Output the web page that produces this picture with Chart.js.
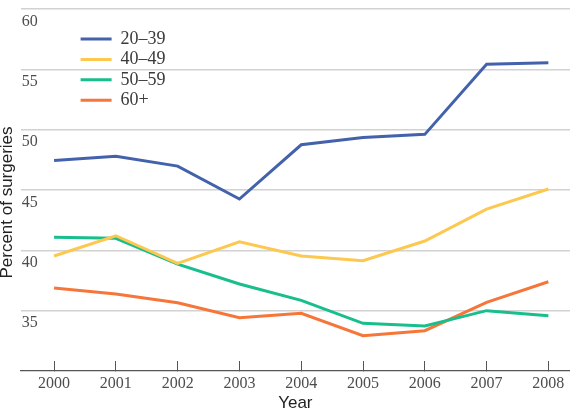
<!DOCTYPE html>
<html>
<head>
<meta charset="utf-8">
<script src="https://cdn.jsdelivr.net/npm/chart.js@4/dist/chart.umd.min.js"></script>
<style>
html,body{margin:0;padding:0;background:#fff;}
canvas{display:block;}
</style>
</head>
<body>
<canvas id="c" width="570" height="415"></canvas>
<script>
// ---- data ----
const years = [2000, 2001, 2002, 2003, 2004, 2005, 2006, 2007, 2008];
const seriesLabels = ['20\u201339', '40\u201349', '50\u201359', '60+'];
const age20to39 = [47.45, 47.80, 46.98, 44.25, 48.75, 49.36, 49.61, 55.43, 55.55];
const age40to49 = [39.53, 41.21, 38.92, 40.71, 39.53, 39.14, 40.77, 43.42, 45.08];
const age50to59 = [41.08, 41.00, 38.86, 37.21, 35.85, 33.95, 33.73, 35.00, 34.58];
const age60plus = [36.88, 36.38, 35.66, 34.42, 34.78, 32.93, 33.34, 35.69, 37.40];
const yTickLabels = [35, 40, 45, 50, 55, 60];
const xTitle = 'Year';
const yTitle = 'Percent of surgeries';

// ---- styling ----
const colors = ['#4462AB', '#FCC850', '#18BE8C', '#F6763A'];
const serif = '"Liberation Serif", "Times New Roman", serif';
const sans = '"Liberation Sans", Arial, sans-serif';

const seriesValues = [age20to39, age40to49, age50to59, age60plus];
const datasets = seriesValues.map((vals, i) => ({
  label: seriesLabels[i],
  data: years.map((yr, j) => ({x: yr, y: vals[j]})),
  borderColor: colors[i],
  backgroundColor: colors[i],
  borderWidth: 3,
  pointRadius: 0,
  tension: 0,
  fill: false
}));

const customPlugin = {
  id: 'customPlugin',
  afterLayout(chart) {
    const lg = chart.legend;
    if (!lg) return;
    const w = lg.width, h = lg.height;
    lg.left = 78.2; lg.right = lg.left + w;
    lg.top = 27.6; lg.bottom = lg.top + h;
  },
  afterDraw(chart) {
    const ctx = chart.ctx;
    ctx.save();
    ctx.translate(12.3, 202.5);
    ctx.rotate(-Math.PI / 2);
    ctx.font = '17px ' + sans;
    ctx.fillStyle = '#222';
    ctx.textAlign = 'center';
    ctx.textBaseline = 'alphabetic';
    ctx.fillText(yTitle, 0, 0);
    ctx.restore();
  }
};

new Chart(document.getElementById('c'), {
  type: 'line',
  data: { datasets },
  plugins: [customPlugin],
  options: {
    responsive: false,
    animation: false,
    devicePixelRatio: 1,
    layout: { padding: { left: 18.7, top: 9, right: 0, bottom: 0 } },
    plugins: {
      tooltip: { enabled: false },
      legend: {
        position: 'chartArea',
        align: 'start',
        labels: {
          boxWidth: 31,
          boxHeight: 3,
          padding: 2.4,
          color: '#3a3a3a',
          font: { family: serif, size: 18 },
          generateLabels(chart) {
            return Chart.defaults.plugins.legend.labels.generateLabels(chart)
              .map(l => Object.assign({}, l, { fillStyle: l.strokeStyle, lineWidth: 0 }));
          }
        }
      }
    },
    scales: {
      x: {
        type: 'linear',
        min: 1999.46,
        max: 2008.35,
        afterBuildTicks(scale) { scale.ticks = years.map(v => ({ value: v })); },
        afterFit(scale) { scale.paddingLeft = 0; scale.paddingRight = 0; },
        ticks: {
          autoSkip: false,
          maxRotation: 0,
          padding: 12.7,
          color: '#4d4d4d',
          font: { family: serif, size: 16 },
          callback: v => String(v)
        },
        grid: {
          drawOnChartArea: false,
          drawTicks: true,
          tickLength: -10,
          color: '#555',
          lineWidth: 1
        },
        border: { display: true, color: '#555', width: 1.3 },
        title: {
          display: true,
          text: xTitle,
          color: '#222',
          font: { family: sans, size: 17 },
          padding: { top: -12.5, bottom: 1.5 }
        }
      },
      y: {
        type: 'linear',
        position: 'left',
        min: 30,
        max: 60,
        ticks: {
          stepSize: 5,
          mirror: true,
          align: 'start',
          crossAlign: 'near',
          padding: 1,
          labelOffset: 4.3,
          color: '#4d4d4d',
          font: { family: serif, size: 16 },
          callback: v => (yTickLabels.includes(v) ? String(v) : '')
        },
        grid: {
          drawTicks: false,
          color: ctx => (ctx.tick && ctx.tick.value === 30 ? 'rgba(0,0,0,0)' : '#d2d2d2'),
          lineWidth: 1.5
        },
        border: { display: false },
        title: { display: false }
      }
    }
  }
});
</script>
</body>
</html>
